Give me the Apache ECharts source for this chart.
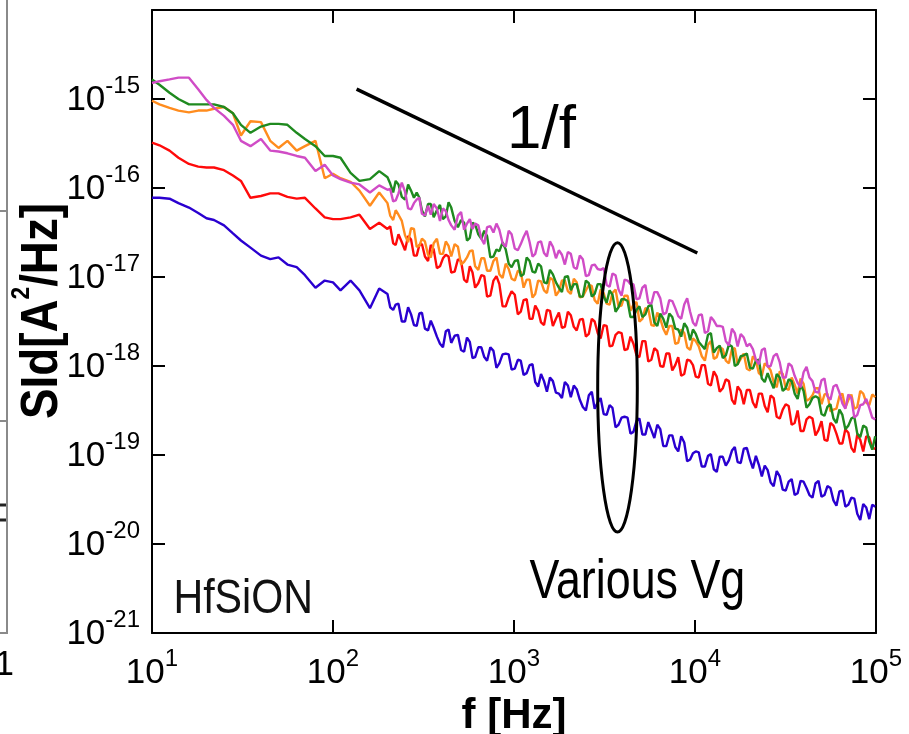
<!DOCTYPE html>
<html>
<head>
<meta charset="utf-8">
<script src="https://cdn.jsdelivr.net/npm/echarts@6/dist/echarts.min.js"></script>
<style>
  html, body { margin: 0; padding: 0; background: #fff; }
  #chart { width: 909px; height: 734px; }
</style>
</head>
<body>
<div id="chart"></div>
<script>
// Drain-current noise spectra of an HfSiON device at several gate voltages.
// Frequencies in Hz; spectra stored as log10 of SId in A^2/Hz.
const freqHz = [10, 11, 12.5, 14, 16, 18, 20, 22, 25, 28, 31, 35, 40, 45, 50, 56, 63, 70, 80, 90, 100, 110, 125, 140, 160, 180,
  200, 207, 215, 222, 230, 240, 250, 260, 270, 280, 290, 300, 310, 322, 335, 347, 360, 375, 390, 405, 420, 435, 450, 470,
  490, 510, 530, 550, 570, 590, 610, 635, 660, 685, 710, 740, 770, 800, 830, 865, 900, 935, 970, 1010, 1050, 1090, 1130,
  1175, 1220, 1265, 1310, 1360, 1410, 1465, 1520, 1580, 1640, 1705, 1770, 1840, 1910, 1985, 2060, 2140, 2220, 2310, 2400,
  2495, 2590, 2690, 2790, 2900, 3010, 3130, 3250, 3375, 3500, 3640, 3780, 3930, 4080, 4240, 4400, 4570, 4750, 4930, 5120,
  5320, 5520, 5740, 5960, 6190, 6430, 6680, 6940, 7210, 7490, 7780, 8080, 8390, 8720, 9050, 9400, 9745, 10100, 10490,
  10900, 11340, 11800, 12240, 12700, 13190, 13700, 14240, 14800, 15390, 16000, 16590, 17200, 17890, 18600, 19335, 20100,
  20885, 21700, 22535, 23400, 24285, 25200, 26180, 27200, 28280, 29400, 30530, 31700, 32925, 34200, 35525, 36900, 38325,
  39800, 41320, 42900, 44570, 46300, 48115, 50000, 51915, 53900, 56010, 58200, 60455, 62800, 65205, 67700, 70350, 73100,
  75900, 78800, 81840, 85000, 88335, 91800, 95330, 99000];

const logSidBlue = [-16.11, -16.11, -16.12, -16.17, -16.22, -16.28, -16.34, -16.36, -16.42, -16.51, -16.59, -16.67, -16.76,
  -16.80, -16.78, -16.86, -16.89, -16.98, -17.12, -17.04, -17.06, -17.15, -17.04, -17.15, -17.35, -17.13,
  -17.19, -17.34, -17.37, -17.31, -17.30, -17.50, -17.50, -17.34, -17.42, -17.54, -17.55, -17.41, -17.40, -17.58, -17.60,
  -17.49, -17.57, -17.67, -17.75, -17.79, -17.61, -17.59, -17.74, -17.66, -17.65, -17.82, -17.84, -17.68, -17.73, -17.91,
  -17.90, -17.79, -17.79, -17.90, -17.94, -17.79, -17.83, -18.02, -17.97, -17.87, -17.86, -17.87, -18.04, -18.03, -17.93,
  -17.94, -18.10, -18.08, -17.99, -17.98, -18.18, -18.23, -18.09, -18.17, -18.29, -18.13, -18.17, -18.30, -18.31, -18.36,
  -18.18, -18.22, -18.35, -18.22, -18.26, -18.38, -18.46, -18.50, -18.33, -18.29, -18.48, -18.41, -18.36, -18.54, -18.55,
  -18.44, -18.47, -18.69, -18.66, -18.58, -18.57, -18.58, -18.76, -18.74, -18.62, -18.59, -18.77, -18.77, -18.63, -18.72,
  -18.81, -18.66, -18.71, -18.90, -18.90, -18.78, -18.78, -18.91, -18.96, -18.79, -18.86, -19.07, -19.05, -18.98, -18.96,
  -18.97, -19.13, -19.13, -19.01, -18.99, -19.16, -19.19, -19.02, -19.02, -19.12, -19.06, -18.95, -18.91, -19.08, -19.09,
  -18.93, -18.92, -19.05, -19.15, -19.01, -19.11, -19.24, -19.12, -19.17, -19.31, -19.35, -19.18, -19.24, -19.39, -19.40,
  -19.30, -19.27, -19.45, -19.43, -19.29, -19.30, -19.37, -19.45, -19.48, -19.32, -19.29, -19.47, -19.45, -19.35, -19.37,
  -19.51, -19.57, -19.41, -19.40, -19.58, -19.56, -19.48, -19.49, -19.66, -19.73, -19.55, -19.59, -19.72, -19.56, -19.58];

const logSidRed = [-15.49, -15.52, -15.58, -15.66, -15.73, -15.76, -15.77, -15.77, -15.80, -15.86, -15.92, -16.11, -16.09,
  -16.06, -16.06, -16.10, -16.12, -16.11, -16.23, -16.33, -16.35, -16.35, -16.33, -16.30, -16.46, -16.39,
  -16.46, -16.43, -16.62, -16.64, -16.52, -16.61, -16.70, -16.54, -16.58, -16.76, -16.76, -16.64, -16.63, -16.77, -16.82,
  -16.64, -16.69, -16.90, -16.88, -16.79, -16.75, -16.77, -16.95, -16.94, -16.80, -16.82, -17.03, -17.06, -16.88, -16.95,
  -17.12, -17.07, -16.98, -16.99, -17.22, -17.21, -17.04, -16.99, -17.08, -17.33, -17.33, -17.23, -17.16, -17.20, -17.42,
  -17.39, -17.26, -17.25, -17.47, -17.47, -17.32, -17.38, -17.51, -17.54, -17.37, -17.38, -17.55, -17.47, -17.40, -17.57,
  -17.56, -17.39, -17.43, -17.56, -17.60, -17.48, -17.47, -17.67, -17.64, -17.47, -17.50, -17.63, -17.69, -17.54, -17.55,
  -17.78, -17.77, -17.65, -17.62, -17.63, -17.82, -17.81, -17.67, -17.75, -17.88, -17.90, -17.72, -17.72, -17.95, -17.93,
  -17.80, -17.83, -18.00, -18.01, -17.86, -17.86, -18.05, -17.99, -17.90, -18.11, -18.09, -17.93, -17.94, -17.99, -18.12,
  -18.13, -17.99, -17.99, -18.20, -18.22, -18.06, -18.12, -18.29, -18.25, -18.15, -18.17, -18.38, -18.43, -18.23, -18.28,
  -18.43, -18.27, -18.27, -18.41, -18.47, -18.31, -18.31, -18.45, -18.52, -18.33, -18.36, -18.57, -18.59, -18.49, -18.43,
  -18.45, -18.66, -18.64, -18.50, -18.73, -18.73, -18.60, -18.57, -18.59, -18.78, -18.72, -18.62, -18.83, -18.84, -18.64,
  -18.67, -18.76, -18.87, -18.87, -18.71, -18.75, -18.92, -18.97, -18.77, -18.83, -18.96, -18.79, -18.80, -18.92, -18.93];

const logSidOrange = [-15.02, -15.06, -15.10, -15.13, -15.15, -15.13, -15.13, -15.11, -15.09, -15.16, -15.41, -15.25, -15.26,
  -15.47, -15.55, -15.47, -15.58, -15.53, -15.47, -15.89, -15.84, -15.89, -15.93, -16.03, -16.20, -16.05,
  -16.17, -16.31, -16.36, -16.25, -16.30, -16.37, -16.53, -16.61, -16.45, -16.46, -16.66, -16.65, -16.57, -16.60, -16.75,
  -16.78, -16.62, -16.57, -16.74, -16.74, -16.60, -16.65, -16.77, -16.63, -16.66, -16.86, -16.83, -16.78, -16.71, -16.70,
  -16.88, -16.92, -16.79, -16.79, -16.93, -16.93, -16.82, -16.78, -16.97, -17.01, -16.85, -16.91, -17.02, -17.04, -16.93,
  -16.94, -17.12, -17.03, -17.03, -17.23, -17.19, -17.04, -17.05, -17.15, -17.18, -17.01, -17.03, -17.21, -17.16, -17.04,
  -17.04, -17.16, -17.19, -17.02, -17.06, -17.23, -17.22, -17.15, -17.09, -17.10, -17.26, -17.30, -17.14, -17.18, -17.30,
  -17.31, -17.18, -17.14, -17.33, -17.32, -17.21, -17.21, -17.38, -17.31, -17.28, -17.50, -17.47, -17.35, -17.36, -17.54,
  -17.55, -17.40, -17.47, -17.58, -17.65, -17.55, -17.55, -17.75, -17.74, -17.59, -17.63, -17.79, -17.82, -17.69, -17.72,
  -17.78, -17.89, -17.94, -17.76, -17.72, -17.92, -17.90, -17.79, -17.81, -17.94, -17.97, -17.81, -17.80, -17.98, -17.92,
  -17.86, -18.03, -18.05, -17.89, -17.94, -18.08, -18.11, -17.97, -18.00, -18.05, -18.18, -18.24, -18.06, -18.09, -18.25,
  -18.27, -18.13, -18.21, -18.31, -18.14, -18.20, -18.39, -18.37, -18.33, -18.25, -18.25, -18.43, -18.32, -18.31, -18.51,
  -18.49, -18.48, -18.34, -18.31, -18.47, -18.38, -18.32, -18.48, -18.46, -18.28, -18.31, -18.41, -18.44, -18.32, -18.35];

const logSidGreen = [-14.78, -14.84, -14.93, -15.00, -15.06, -15.06, -15.06, -15.06, -15.09, -15.16, -15.29, -15.38, -15.31,
  -15.28, -15.28, -15.29, -15.38, -15.45, -15.53, -15.64, -15.64, -15.66, -15.83, -15.92, -15.90, -15.81,
  -15.88, -15.95, -16.05, -15.92, -15.96, -16.10, -16.13, -15.96, -16.03, -16.11, -16.05, -16.11, -16.25, -16.32, -16.18,
  -16.18, -16.33, -16.25, -16.19, -16.35, -16.32, -16.16, -16.22, -16.37, -16.44, -16.36, -16.39, -16.59, -16.56, -16.39,
  -16.41, -16.52, -16.57, -16.48, -16.54, -16.78, -16.77, -16.69, -16.71, -16.61, -16.69, -16.85, -16.89, -16.82, -16.81,
  -16.99, -16.97, -16.78, -16.82, -16.94, -16.95, -16.85, -16.88, -17.06, -17.07, -16.92, -16.97, -17.06, -17.12, -17.17,
  -17.00, -16.99, -17.15, -17.08, -17.08, -17.22, -17.22, -17.04, -17.07, -17.22, -17.19, -17.08, -17.08, -17.22, -17.29,
  -17.15, -17.20, -17.39, -17.34, -17.25, -17.25, -17.27, -17.45, -17.45, -17.37, -17.33, -17.45, -17.42, -17.33, -17.31,
  -17.51, -17.55, -17.41, -17.47, -17.57, -17.41, -17.45, -17.58, -17.59, -17.67, -17.52, -17.57, -17.71, -17.59, -17.64,
  -17.73, -17.77, -17.81, -17.65, -17.63, -17.85, -17.80, -17.77, -17.91, -17.88, -17.76, -17.78, -18.00, -17.98, -17.89,
  -17.88, -17.86, -18.02, -18.03, -17.94, -17.93, -18.14, -18.18, -18.08, -18.17, -18.25, -18.09, -18.13, -18.28, -18.25,
  -18.15, -18.17, -18.31, -18.37, -18.21, -18.28, -18.47, -18.43, -18.36, -18.34, -18.36, -18.54, -18.56, -18.46, -18.43,
  -18.59, -18.64, -18.49, -18.55, -18.71, -18.67, -18.59, -18.57, -18.76, -18.80, -18.67, -18.69, -18.85, -18.94, -18.79];

const logSidMagenta = [-14.82, -14.80, -14.78, -14.76, -14.76, -14.89, -15.01, -15.10, -15.19, -15.29, -15.47, -15.53, -15.45,
  -15.58, -15.59, -15.61, -15.64, -15.66, -15.81, -15.74, -15.86, -15.90, -15.94, -15.96, -16.05, -15.97,
  -16.02, -16.01, -16.15, -16.14, -16.06, -15.94, -16.04, -16.23, -16.24, -16.17, -16.13, -16.11, -16.29, -16.31, -16.20,
  -16.30, -16.18, -16.23, -16.37, -16.23, -16.26, -16.36, -16.42, -16.47, -16.31, -16.27, -16.47, -16.40, -16.35, -16.46,
  -16.40, -16.42, -16.57, -16.63, -16.44, -16.43, -16.50, -16.40, -16.47, -16.62, -16.66, -16.48, -16.52, -16.68, -16.70,
  -16.63, -16.55, -16.48, -16.61, -16.77, -16.74, -16.61, -16.60, -16.73, -16.77, -16.60, -16.66, -16.79, -16.70, -16.75,
  -16.86, -16.72, -16.74, -16.89, -16.91, -16.76, -16.80, -16.99, -16.98, -16.87, -16.86, -16.91, -16.92, -16.90, -17.09,
  -17.11, -16.96, -16.98, -17.14, -17.21, -17.03, -17.04, -17.08, -17.08, -17.25, -17.24, -17.12, -17.09, -17.29, -17.30,
  -17.17, -17.17, -17.24, -17.42, -17.40, -17.26, -17.27, -17.35, -17.44, -17.47, -17.31, -17.24, -17.39, -17.51, -17.55,
  -17.43, -17.42, -17.63, -17.61, -17.45, -17.49, -17.55, -17.55, -17.56, -17.72, -17.77, -17.58, -17.63, -17.78, -17.64,
  -17.68, -17.78, -17.75, -17.81, -17.93, -17.98, -17.82, -17.80, -18.01, -18.00, -17.89, -17.86, -17.96, -18.13, -18.13,
  -17.97, -18.00, -18.11, -18.19, -18.24, -18.07, -18.01, -18.13, -18.17, -18.29, -18.30, -18.16, -18.14, -18.34, -18.38,
  -18.23, -18.21, -18.30, -18.42, -18.48, -18.32, -18.36, -18.58, -18.55, -18.44, -18.43, -18.37, -18.47, -18.58, -18.60];

const curveNames = ['Vg 1', 'Vg 2', 'Vg 3', 'Vg 4', 'Vg 5'];
const curveLogs = [logSidBlue, logSidRed, logSidOrange, logSidGreen, logSidMagenta];
const curveColors = ['#2a00d0', '#ff0a0a', '#ff8c1e', '#1f8a1f', '#d04cc6'];

// 1/f slope guide (two end points: Hz, A^2/Hz)
const guideFreq = [135, 10300];
const guideSid = [1.29e-15, 1.86e-17];

// Ellipse grouping the curves near 3-5 kHz: frequency span and SId span
const ringFreq = [2900, 4800];
const ringSid = [1.36e-20, 2.43e-17];

// Text annotations anchored in data units
const noteText = ['1/f', 'Various Vg', 'HfSiON'];
const noteFreq = [1420, 4800, 31.9];
const noteSid = [4.4e-16, 3.7e-21, 2.35e-21];

// The y axis runs on SId expressed in units of 1e-21 A^2/Hz, which keeps the
// log scale away from floating-point rounding at such small magnitudes.
const Y_UNIT_EXP = -21;
const toAxis = s => s / Math.pow(10, Y_UNIT_EXP);
const logToAxis = e => Math.pow(10, e - Y_UNIT_EXP);

const SANS = "'Liberation Sans', Arial, Helvetica, sans-serif";

const powerRich = {
  b: { fontFamily: SANS, fontSize: 35, color: '#000', lineHeight: 44, verticalAlign: 'bottom' },
  s: { fontFamily: SANS, fontSize: 24, color: '#000', lineHeight: 24, verticalAlign: 'top' }
};
const xPowerLabel = v => '{b|10}{s|' + Math.round(Math.log10(v)) + '}';
const yPowerLabel = v => '{b|10}{s|' + (Math.round(Math.log10(v)) + Y_UNIT_EXP) + '}';

const frameLine = { show: true, lineStyle: { color: '#000', width: 2 } };
const frameTick = { show: true, inside: true, length: 13, lineStyle: { color: '#000', width: 2 } };

const series = curveLogs.map((logs, k) => {
  const n = Math.min(logs.length, freqHz.length);
  const pts = [];
  for (let i = 0; i < n; i++) pts.push([freqHz[i], logToAxis(logs[i])]);
  return {
    name: curveNames[k],
    type: 'line',
    data: pts,
    showSymbol: false,
    symbol: 'none',
    lineStyle: { color: curveColors[k], width: 2.4 },
    z: 2 + k
  };
});

series.push({
  name: '1/f',
  type: 'line',
  data: guideFreq.map((f, i) => [f, toAxis(guideSid[i])]),
  showSymbol: false,
  symbol: 'none',
  lineStyle: { color: '#000', width: 3.5 },
  z: 10
});

series.push({
  name: 'group',
  type: 'custom',
  data: [[ringFreq[0], ringFreq[1], toAxis(ringSid[0]), toAxis(ringSid[1])]],
  encode: { x: [0, 1], y: [2, 3] },
  renderItem: function (params, api) {
    const a = api.coord([api.value(0), api.value(3)]);
    const b = api.coord([api.value(1), api.value(2)]);
    const cx = (a[0] + b[0]) / 2, cy = (a[1] + b[1]) / 2;
    const rx = Math.abs(b[0] - a[0]) / 2, ry = Math.abs(b[1] - a[1]) / 2;
    const d = 'M' + (cx - rx) + ' ' + cy +
      ' A' + rx + ' ' + ry + ' 0 1 0 ' + (cx + rx) + ' ' + cy +
      ' A' + rx + ' ' + ry + ' 0 1 0 ' + (cx - rx) + ' ' + cy + ' Z';
    return {
      type: 'path',
      shape: { pathData: d },
      style: { fill: null, stroke: '#000', lineWidth: 3 }
    };
  },
  z: 10
});

// Annotation text: size and horizontal squeeze per note (condensed lettering)
const noteStyles = [
  { fontSize: 62, squeeze: 1.0, color: '#000' },
  { fontSize: 56, squeeze: 0.80, color: '#000' },
  { fontSize: 49, squeeze: 0.84, color: '#111' }
];
series.push({
  name: 'notes',
  type: 'custom',
  silent: true,
  data: noteText.map((t, i) => [noteFreq[i], toAxis(noteSid[i])]),
  encode: { x: 0, y: 1 },
  renderItem: function (params, api) {
    const p = api.coord([api.value(0), api.value(1)]);
    const st = noteStyles[params.dataIndex];
    return {
      type: 'text',
      x: p[0], y: p[1],
      scaleX: st.squeeze,
      style: {
        text: noteText[params.dataIndex],
        fontFamily: SANS, fontSize: st.fontSize, fill: st.color,
        align: 'center', verticalAlign: 'middle'
      }
    };
  },
  z: 11
});

const Y_MIN = toAxis(1e-21), Y_MAX = toAxis(1e-14);

const option = {
  animation: false,
  backgroundColor: '#fff',
  grid: { left: 152, right: 33, top: 10, bottom: 101, containLabel: false, outerBoundsMode: 'none' },
  xAxis: [
    {
      type: 'log', logBase: 10, min: 10, max: 100000, splitNumber: 4,
      axisLine: frameLine, axisTick: frameTick, splitLine: { show: false }, minorTick: { show: false },
      axisLabel: { margin: 14, formatter: xPowerLabel, rich: powerRich },
      name: 'f [Hz]', nameLocation: 'middle', nameGap: 71,
      nameTextStyle: { fontFamily: SANS, fontWeight: 'bold', fontSize: 42, color: '#000', verticalAlign: 'middle' }
    },
    {
      type: 'log', logBase: 10, min: 10, max: 100000, splitNumber: 4, position: 'top',
      axisLine: frameLine, axisTick: frameTick, splitLine: { show: false }, axisLabel: { show: false }
    }
  ],
  yAxis: [
    {
      type: 'log', logBase: 10, min: Y_MIN, max: Y_MAX, splitNumber: 7,
      axisLine: frameLine, axisTick: frameTick, splitLine: { show: false }, minorTick: { show: false },
      axisLabel: { margin: 12, showMaxLabel: false, formatter: yPowerLabel, rich: powerRich, padding: [0, 0, 6, 0] }
    },
    {
      type: 'log', logBase: 10, min: Y_MIN, max: Y_MAX, splitNumber: 7, position: 'right',
      axisLine: frameLine, axisTick: frameTick, splitLine: { show: false }, axisLabel: { show: false }
    }
  ],
  graphic: [
    // y axis title, condensed bold lettering read bottom to top
    {
      type: 'text', silent: true, x: 39, y: 311, rotation: Math.PI / 2, scaleX: 0.88,
      style: {
        text: '{t|SId[A}{u|2}{t|/Hz]}', align: 'center', verticalAlign: 'middle',
        rich: {
          t: { fontFamily: SANS, fontWeight: 'bold', fontSize: 52, fill: '#000', lineHeight: 60, verticalAlign: 'bottom' },
          u: { fontFamily: SANS, fontWeight: 'bold', fontSize: 26, fill: '#000', lineHeight: 26, verticalAlign: 'top' }
        }
      }
    },
    // Edge of the neighbouring panel on the left
    { type: 'line', silent: true, shape: { x1: 7, y1: 0, x2: 7, y2: 633 }, style: { stroke: '#8a8a8a', lineWidth: 2 } },
    { type: 'line', silent: true, shape: { x1: 0, y1: 211, x2: 7, y2: 211 }, style: { stroke: '#8a8a8a', lineWidth: 2 } },
    { type: 'line', silent: true, shape: { x1: 0, y1: 421, x2: 7, y2: 421 }, style: { stroke: '#8a8a8a', lineWidth: 2 } },
    { type: 'line', silent: true, shape: { x1: 0, y1: 505, x2: 6, y2: 505 }, style: { stroke: '#222', lineWidth: 3 } },
    { type: 'line', silent: true, shape: { x1: 0, y1: 520, x2: 6, y2: 520 }, style: { stroke: '#222', lineWidth: 3 } },
    { type: 'line', silent: true, shape: { x1: 0, y1: 633, x2: 8, y2: 633 }, style: { stroke: '#8a8a8a', lineWidth: 2 } },
    { type: 'text', silent: true, style: { text: '1', x: 14, y: 665, align: 'right', verticalAlign: 'middle', fontFamily: SANS, fontSize: 35, fill: '#000' } }
  ],
  series: series
};

const chart = echarts.init(document.getElementById('chart'), null, { renderer: 'canvas' });
chart.setOption(option);
</script>
</body>
</html>
